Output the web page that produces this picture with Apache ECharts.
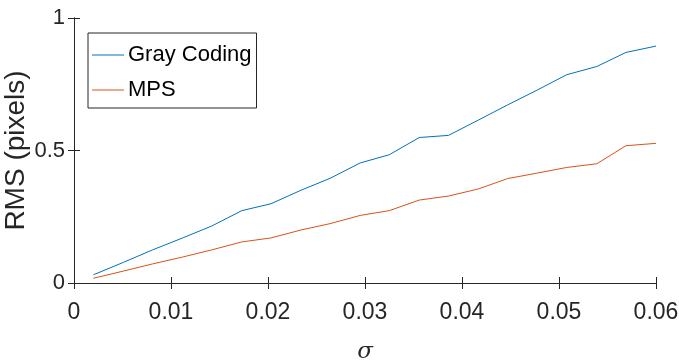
<!DOCTYPE html>
<html>
<head>
<meta charset="utf-8">
<script src="https://cdn.jsdelivr.net/npm/echarts@6/dist/echarts.min.js"></script>
<style>
html,body{margin:0;padding:0;background:#fff;}
#chart{width:679px;height:360px;}
</style>
</head>
<body>
<div id="chart"></div>
<script>
var sigma = [0.002, 0.0051, 0.0081, 0.0112, 0.0142, 0.0173, 0.0203, 0.0234, 0.0264, 0.0295, 0.0325, 0.0356, 0.0386, 0.0417, 0.0447, 0.0478, 0.0508, 0.0539, 0.0569, 0.06];
var grayCoding = [0.031, 0.078, 0.125, 0.170, 0.215, 0.273, 0.299, 0.350, 0.395, 0.453, 0.484, 0.549, 0.557, 0.615, 0.672, 0.729, 0.786, 0.817, 0.870, 0.894];
var mps = [0.018, 0.045, 0.072, 0.098, 0.125, 0.155, 0.170, 0.200, 0.224, 0.255, 0.273, 0.313, 0.328, 0.355, 0.394, 0.415, 0.436, 0.450, 0.518, 0.527];
var xTicks = [0, 0.01, 0.02, 0.03, 0.04, 0.05, 0.06];
var yTicks = [0, 0.5, 1];

function pairs(xs, ys){ return xs.map(function(x,i){ return [x, ys[i]]; }); }

var FONT = '"Liberation Sans", Arial, Helvetica, sans-serif';
var AX = '#262626';
var chart = echarts.init(document.getElementById('chart'), null, {renderer:'canvas'});
var axisLineStyle = {show:true, lineStyle:{color:AX, width:1}};
var tickStyle = {show:true, inside:true, length:6, lineStyle:{color:AX, width:1}};

chart.setOption({
  animation:false,
  backgroundColor:'#fff',
  grid:{left:74, right:23, top:18, bottom:77, containLabel:false, outerBoundsMode:'none'},
  legend:{
    orient:'vertical', left:88, top:33,
    data:[{name:'Gray Coding', icon:'rect'},{name:'MPS', icon:'rect'}],
    backgroundColor:'#fff',
    borderColor:'#262626', borderWidth:1, borderRadius:0,
    padding:[10,5,6,4],
    itemWidth:32, itemHeight:1, itemGap:11,
    textStyle:{fontFamily:FONT, fontSize:22, color:'#000', padding:[0,0,0,-1], lineHeight:24}
  },
  xAxis:[{
    type:'value', min:0, max:0.06, interval:0.01, position:'bottom',
    name:'σ', nameLocation:'middle', nameGap:58, nameMoveOverlap:false,
    nameTextStyle:{fontFamily:'"DejaVu Serif", "Liberation Serif", serif', fontStyle:'italic', fontSize:23, color:'#262626'},
    axisLine:axisLineStyle, axisTick:tickStyle,
    axisLabel:{fontFamily:FONT, fontSize:23, color:'#262626', margin:18,
      formatter:function(v){ return xTicks.indexOf(+v.toFixed(2))>=0 ? String(+v.toFixed(2)) : ''; }},
    splitLine:{show:false}
  },{
    type:'value', min:0, max:0.06, interval:0.01, position:'top',
    axisLine:axisLineStyle, axisTick:tickStyle, axisLabel:{show:false}, splitLine:{show:false}
  }],
  yAxis:[{
    type:'value', min:0, max:1, interval:0.5, position:'left',
    name:'RMS (pixels)', nameLocation:'middle', nameGap:44, nameMoveOverlap:false,
    nameTextStyle:{fontFamily:FONT, fontSize:28, color:'#262626'},
    axisLine:axisLineStyle, axisTick:tickStyle,
    axisLabel:{fontFamily:FONT, fontSize:22, color:'#262626', margin:9,
      formatter:function(v){ return yTicks.indexOf(v)>=0 ? String(v) : ''; }},
    splitLine:{show:false}
  },{
    type:'value', min:0, max:1, interval:0.5, position:'right',
    axisLine:axisLineStyle, axisTick:tickStyle, axisLabel:{show:false}, splitLine:{show:false}
  }],
  series:[{
    name:'Gray Coding', type:'line', xAxisIndex:0, yAxisIndex:0,
    data:pairs(sigma, grayCoding), symbol:'none', showSymbol:false,
    lineStyle:{color:'#0072BD', width:1}, itemStyle:{color:'#0072BD'}, z:2
  },{
    name:'MPS', type:'line', xAxisIndex:0, yAxisIndex:0,
    data:pairs(sigma, mps), symbol:'none', showSymbol:false,
    lineStyle:{color:'#D95319', width:1}, itemStyle:{color:'#D95319'}, z:2
  }]
});
</script>
</body>
</html>
